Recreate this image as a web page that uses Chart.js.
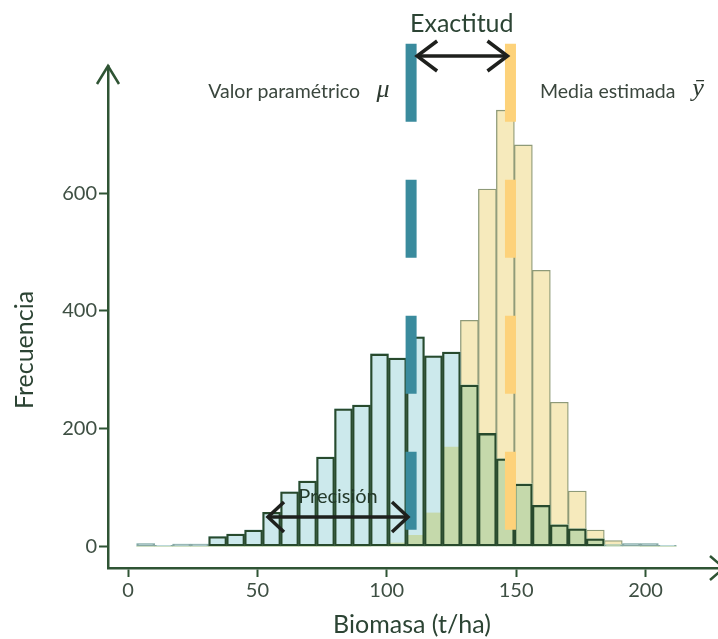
<!DOCTYPE html>
<html>
<head>
<meta charset="utf-8">
<script src="https://cdn.jsdelivr.net/npm/chart.js@4.4.1/dist/chart.umd.min.js"></script>
<style>
html,body{margin:0;padding:0;background:#ffffff;}
#wrap{width:718px;height:639px;position:relative;overflow:hidden;}
</style>
</head>
<body>
<div id="wrap"><canvas id="c" width="718" height="639"></canvas></div>
<script>
// ---------- data ----------
const binCenters = [6.83, 13.78, 20.73, 27.68, 34.63, 41.58, 48.53, 55.48, 62.43, 69.38,
                    76.33, 83.28, 90.23, 97.18, 104.13, 111.08, 118.03, 124.98, 131.93, 138.88,
                    145.83, 152.78, 159.73, 166.68, 173.63, 180.58, 187.53, 194.48, 201.43, 208.38];
const freqParametric = [5, 2, 4, 4, 17, 21, 28, 58, 93, 111,
                        152, 234, 240, 327, 320, 356, 324, 330, 274, 192,
                        149, 106, 70, 37, 30, 13, 3, 5, 5, 2];
const freqEstimated  = [0, 0, 0, 0, 0, 0, 0, 0, 0, 0,
                        0, 0, 0, 1, 6, 19, 57, 169, 384, 607,
                        741, 682, 469, 245, 94, 28, 10, 1, 0, 0];
const xTickValues = [0, 50, 100, 150, 200];
const yTickValues = [0, 200, 400, 600];
const muValue = 109.4;     // Valor paramétrico
const ybarValue = 147.8;   // Media estimada
const precisionFrom = 54.1;
const precisionTo = 108.2;

// ---------- styling ----------
const AXIS = '#2f5434';
const TICKTXT = '#3e4f43';
const TXT = '#2c4434';
const FONT = 'Lato, "Open Sans", sans-serif';

const overlap = freqParametric.map((v, i) => Math.min(v, freqEstimated[i]));
const pts = arr => binCenters.map((c, i) => ({x: c, y: arr[i]}));

const barCommon = {type: 'bar', grouped: false, barPercentage: 1, categoryPercentage: 1, borderSkipped: false};

function arrowHead(ctx, tx, ty, dx, dy, len, half) {
  const px = -dy, py = dx;
  ctx.beginPath();
  ctx.moveTo(tx - dx * len + px * half, ty - dy * len + py * half);
  ctx.lineTo(tx, ty);
  ctx.lineTo(tx - dx * len - px * half, ty - dy * len - py * half);
  ctx.stroke();
}
function dblArrow(ctx, x1, x2, y, len, half, w) {
  ctx.save();
  ctx.strokeStyle = '#1e201d';
  ctx.lineWidth = w;
  ctx.lineJoin = 'miter';
  ctx.lineCap = 'butt';
  ctx.beginPath();
  ctx.moveTo(x1 + 1, y); ctx.lineTo(x2 - 1, y); ctx.stroke();
  arrowHead(ctx, x1, y, -1, 0, len, half);
  arrowHead(ctx, x2, y, 1, 0, len, half);
  ctx.restore();
}

const annotations = {
  id: 'annotations',
  afterDraw(chart) {
    const {ctx, chartArea, scales: {x, y}} = chart;
    const xm = x.getPixelForValue(muValue);
    const xb = x.getPixelForValue(ybarValue);
    ctx.save();
    // axis arrows
    ctx.strokeStyle = AXIS;
    ctx.lineWidth = 2.5;
    arrowHead(ctx, chartArea.left, chartArea.top, 0, -1, 18, 11);
    arrowHead(ctx, chartArea.right + 6, chartArea.bottom, 1, 0, 14, 12);

    // Exactitud
    dblArrow(ctx, xm + 6, xb - 3, 56, 20, 15, 3.5);
    ctx.fillStyle = TXT;
    ctx.font = '25px ' + FONT;
    ctx.textAlign = 'center';
    ctx.textBaseline = 'alphabetic';
    ctx.fillText('Exactitud', (xm + xb) / 2 + 1, 32);

    // labels of the two lines
    ctx.fillStyle = '#3a463d';
    ctx.font = '19.5px ' + FONT;
    ctx.textAlign = 'right';
    ctx.textBaseline = 'middle';
    ctx.fillText('Valor paramétrico', 360, 92);
    ctx.textAlign = 'left';
    ctx.fillText('Media estimada', 540, 92);
    ctx.font = 'italic 26px "Liberation Serif", "DejaVu Serif", serif';
    ctx.textAlign = 'center';
    ctx.fillStyle = '#2e3a31';
    ctx.fillText('\u03BC', 383, 90);
    ctx.fillText('\u0233', 698, 89);

    // Precisión
    const p1 = x.getPixelForValue(precisionFrom);
    const p2 = x.getPixelForValue(precisionTo);
    dblArrow(ctx, p1, p2, 517, 16, 15, 3.5);
    ctx.fillStyle = '#243a2b';
    ctx.font = '20px ' + FONT;
    ctx.textAlign = 'center';
    ctx.textBaseline = 'middle';
    ctx.fillText('Precisión', 338, 497);

    // axis titles
    ctx.fillStyle = TXT;
    ctx.font = '25px ' + FONT;
    ctx.fillText('Biomasa (t/ha)', 412, 625);
    ctx.translate(25, 350);
    ctx.rotate(-Math.PI / 2);
    ctx.fillText('Frecuencia', 0, 0);
    ctx.restore();
  }
};

new Chart(document.getElementById('c'), {
  data: {
    datasets: [
      {type: 'line', data: [{x: muValue, y: 853.6}, {x: muValue, y: 28}], borderColor: '#3a8b9d',
       borderWidth: 11, borderDash: [78, 58], borderCapStyle: 'butt', pointRadius: 0, clip: false, order: 0},
      {type: 'line', data: [{x: ybarValue, y: 853.6}, {x: ybarValue, y: 28}], borderColor: '#fdd27a',
       borderWidth: 11, borderDash: [78, 58], borderCapStyle: 'butt', pointRadius: 0, clip: false, order: 1},
      Object.assign({}, barCommon, {data: pts(freqParametric), backgroundColor: 'rgba(0,0,0,0)',
       borderColor: c => (c.raw && c.raw.y < 12 ? '#88a8a4' : '#284a2d'), borderWidth: 1.6, order: 2}),
      Object.assign({}, barCommon, {data: pts(overlap), backgroundColor: '#c5d9ab', borderWidth: 0, order: 3}),
      Object.assign({}, barCommon, {data: pts(freqParametric), backgroundColor: '#cce9ec', borderWidth: 0, order: 4}),
      Object.assign({}, barCommon, {data: pts(freqEstimated), backgroundColor: '#f6eabc',
       borderColor: '#8e9a78', borderWidth: 1.3, order: 5})
    ]
  },
  options: {
    responsive: false,
    animation: false,
    devicePixelRatio: 1,
    layout: {padding: {top: 66, right: 0, left: 0, bottom: 0}},
    plugins: {legend: {display: false}, tooltip: {enabled: false}, title: {display: false}},
    scales: {
      x: {
        type: 'linear', min: -7.73, max: 228, offset: false,
        afterBuildTicks: s => { s.ticks = xTickValues.map(v => ({value: v})); },
        afterFit: s => { s.height = 71; },
        ticks: {font: {family: FONT, size: 20}, color: TICKTXT, padding: 2, maxRotation: 0, autoSkip: false},
        grid: {offset: false, drawOnChartArea: false, drawTicks: true, tickLength: 9, tickWidth: 2, tickColor: AXIS},
        border: {display: true, color: AXIS, width: 2.5}
      },
      y: {
        type: 'linear', min: -36.5, max: 816,
        afterBuildTicks: s => { s.ticks = yTickValues.map(v => ({value: v})); },
        afterFit: s => { s.width = 108; },
        ticks: {font: {family: FONT, size: 20}, color: TICKTXT, padding: 2},
        grid: {drawOnChartArea: false, drawTicks: true, tickLength: 9, tickWidth: 2, tickColor: AXIS},
        border: {display: true, color: AXIS, width: 2.5}
      }
    }
  },
  plugins: [annotations]
});
</script>
</body>
</html>
